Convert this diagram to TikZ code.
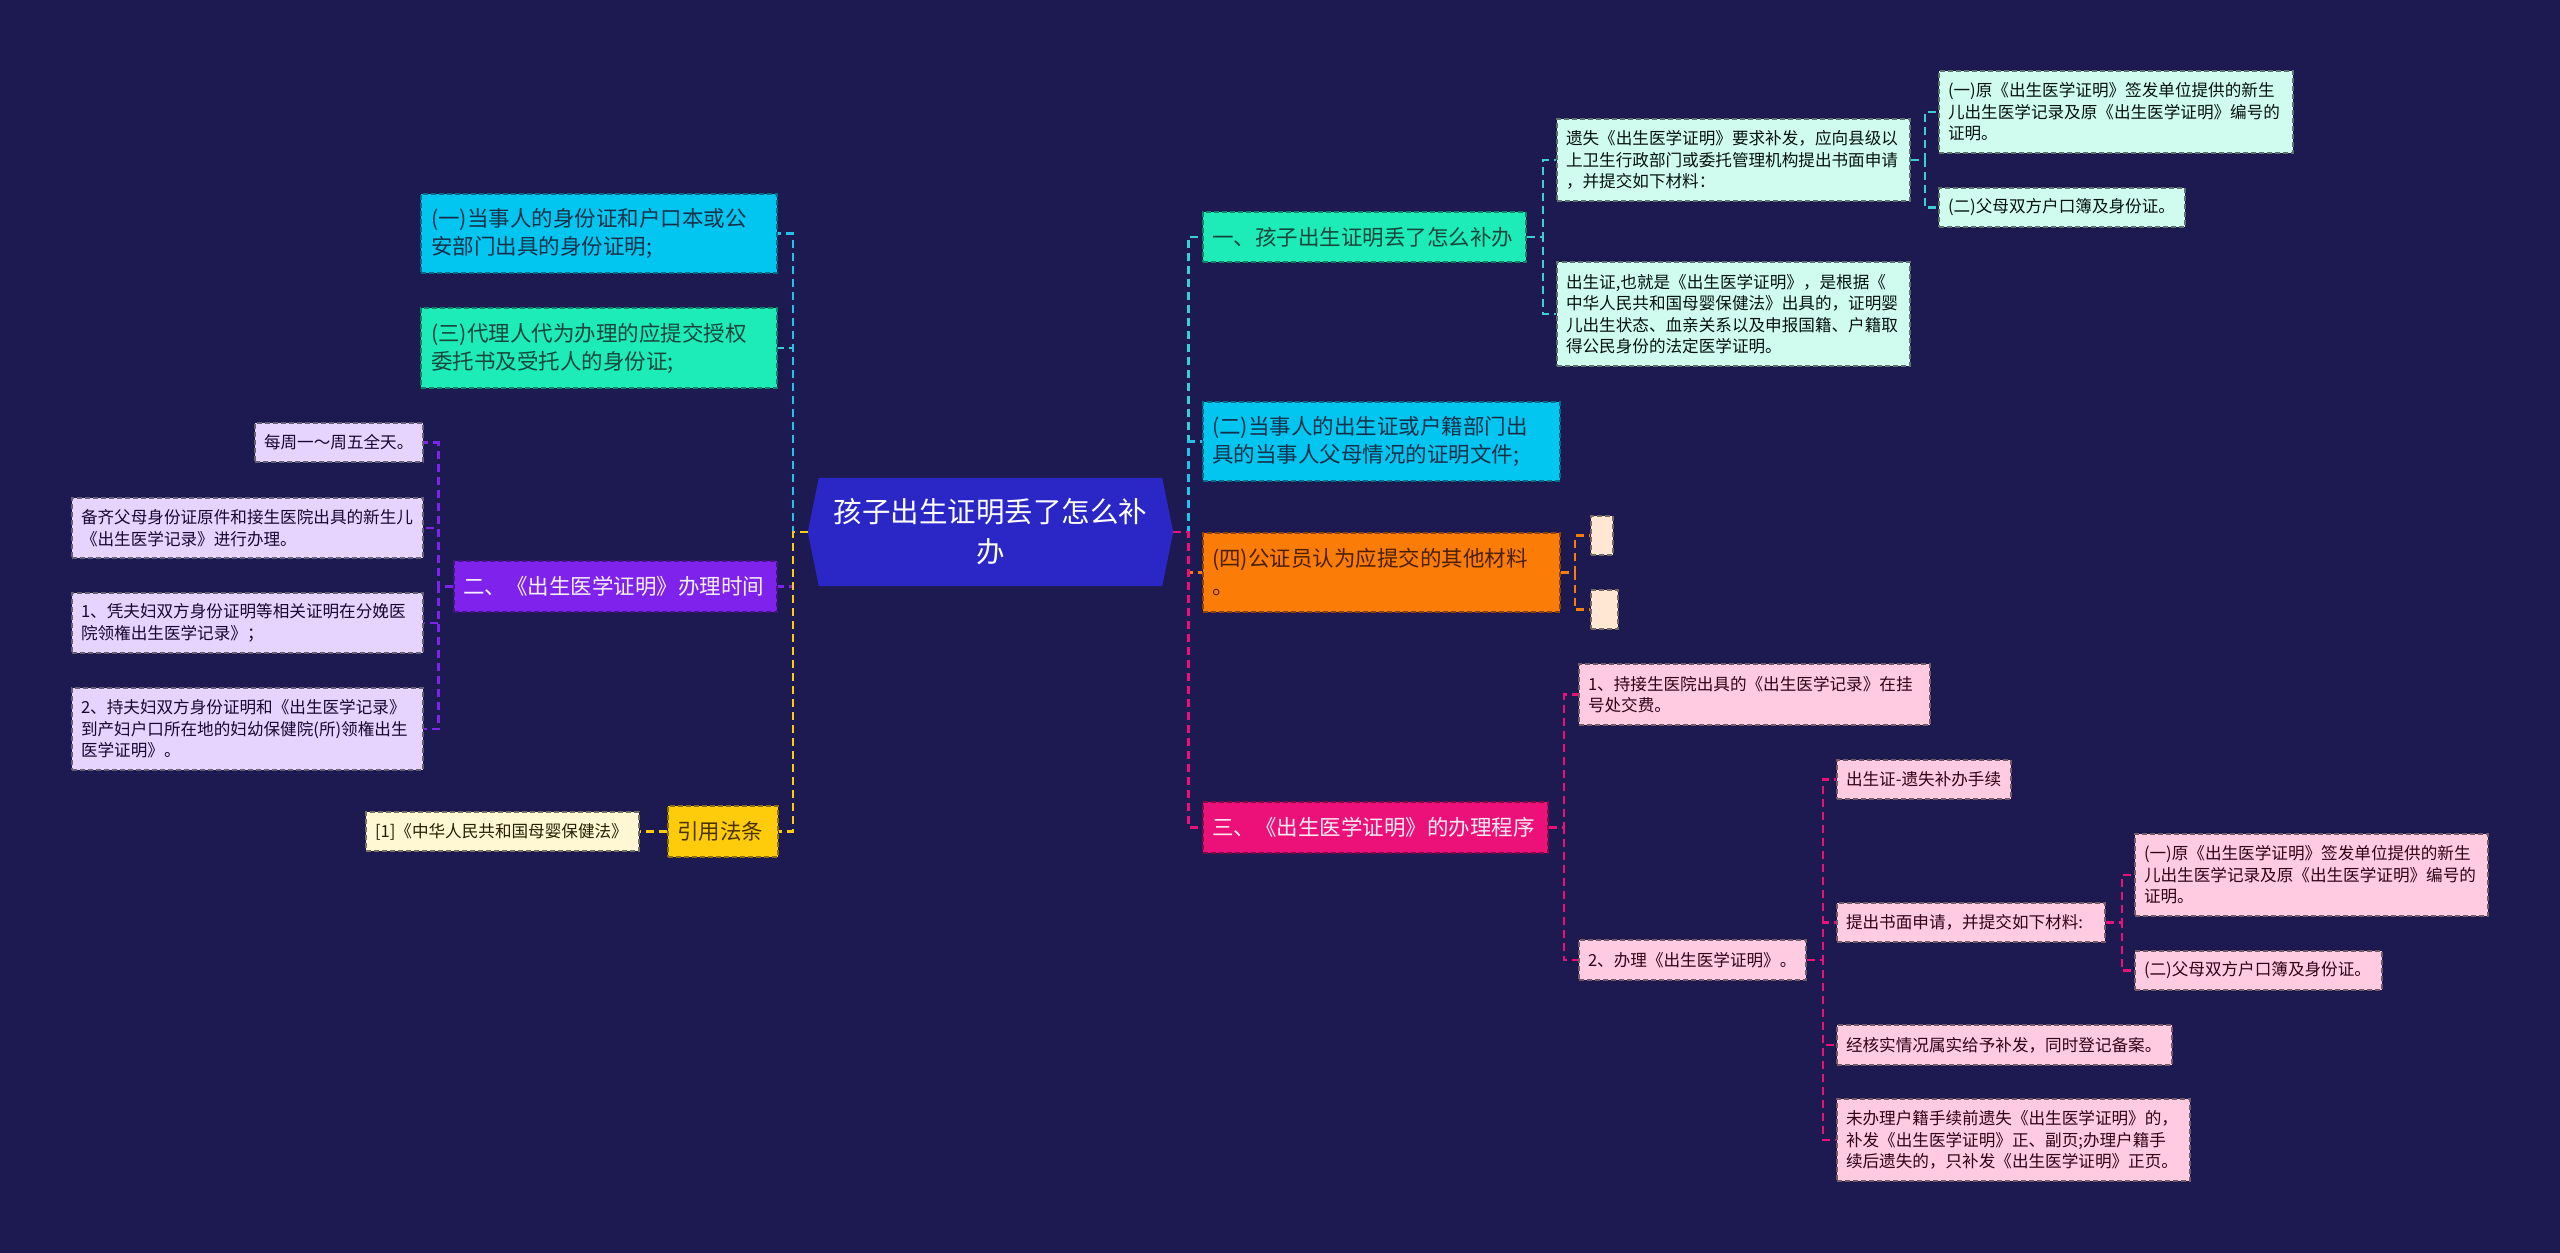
\documentclass[tikz,border=0pt]{standalone}
\usepackage{fontspec}
\setmainfont{Noto Sans CJK SC}
\definecolor{cBg}{HTML}{1C1A50}
\definecolor{cRoot}{HTML}{2A27C6}
\definecolor{cAqua}{HTML}{1DEBB8}
\definecolor{cAquaC}{HTML}{3CCFD2}
\definecolor{cAquaT}{HTML}{15463C}
\definecolor{cCyan}{HTML}{02C6F0}
\definecolor{cCyanC}{HTML}{22C2EA}
\definecolor{cCyanT}{HTML}{12304A}
\definecolor{cOrange}{HTML}{FC7C08}
\definecolor{cOrangeT}{HTML}{4A2000}
\definecolor{cMag}{HTML}{EC1079}
\definecolor{cPurp}{HTML}{7F22EC}
\definecolor{cYel}{HTML}{FECC0A}
\definecolor{cYelT}{HTML}{4A3300}
\definecolor{cMintL}{HTML}{D0FCEF}
\definecolor{cCreamO}{HTML}{FFE7D3}
\definecolor{cPinkL}{HTML}{FFCBE1}
\definecolor{cLav}{HTML}{E6D3FE}
\definecolor{cCreamY}{HTML}{FFF8D3}
\begin{document}
\begin{tikzpicture}[x=1pt,y=-1pt,
  base/.style={rectangle, dashed, dash pattern=on 5pt off 3pt, line width=1.6pt,
    inner xsep=9pt, inner ysep=0pt, align=left, anchor=center},
  smallf/.style={font=\fontsize{16.6}{21.5}\selectfont},
  midf/.style={font=\fontsize{21.5}{28}\selectfont},
  lvT/.style={base, midf, fill=cAqua, draw=cAqua!55!black, text=cAquaT},
  lvC/.style={base, midf, fill=cCyan, draw=cCyan!55!black, text=cCyanT},
  lvO/.style={base, midf, fill=cOrange, draw=cOrange!55!black, text=cOrangeT},
  lvM/.style={base, midf, fill=cMag, draw=cMag!55!black, text=white!92!cMag},
  lvP/.style={base, midf, fill=cPurp, draw=cPurp!55!black, text=white!94!cPurp},
  lvY/.style={base, midf, fill=cYel, draw=cYel!55!black, text=cYelT},
  chT/.style={base, smallf, fill=cMintL, draw=cMintL!45!black, text=black!75!cAquaT},
  chO/.style={base, smallf, fill=cCreamO, draw=cCreamO!45!black, inner xsep=0pt},
  chM/.style={base, smallf, fill=cPinkL, draw=cPinkL!45!black, text=black!80!cMag},
  chP/.style={base, smallf, fill=cLav, draw=cLav!45!black, text=black!80!cPurp},
  chY/.style={base, smallf, fill=cCreamY, draw=cCreamY!45!black, text=black!85!cYel},
  conn/.style={dash pattern=on 8pt off 5pt, line width=2.6pt}
]
\fill[cBg] (0,0) rectangle (2560,1253);

% root
\node[minimum width=365pt, minimum height=108pt, inner sep=0pt] (root) at (990.5,532) {};
\fill[cRoot] (root.west) -- ([xshift=11pt]root.north west) -- ([xshift=-11pt]root.north east)
  -- (root.east) -- ([xshift=-11pt]root.south east) -- ([xshift=11pt]root.south west) -- cycle;
\node[text=white, align=center, font=\fontsize{28.5}{40}\selectfont] (roott) at (root.center) {孩子出生证明丢了怎么补\\办};

% right side, level 1
\node[lvT, minimum width=323pt, text width=305pt, minimum height=50pt] (a1) at (1364.5,237) {一、孩子出生证明丢了怎么补办};
\node[lvC, minimum width=357pt, text width=339pt, minimum height=79pt] (a2) at (1381.5,441.5) {(二)当事人的出生证或户籍部门出\\具的当事人父母情况的证明文件;};
\node[lvO, minimum width=357pt, text width=339pt, minimum height=79pt] (a4) at (1381.5,572.5) {(四)公证员认为应提交的其他材料\\。};
\node[lvM, minimum width=345pt, text width=327pt, minimum height=51pt] (a3) at (1375.5,827.5) {三、《出生医学证明》的办理程序};

% right, branch one
\node[chT, minimum width=353pt, text width=335pt, minimum height=82pt] (r11) at (1733.5,160) {遗失《出生医学证明》要求补发，应向县级以\\上卫生行政部门或委托管理机构提出书面申请\\，并提交如下材料：};
\node[chT, minimum width=353pt, text width=335pt, minimum height=104pt] (r12) at (1733.5,314) {出生证,也就是《出生医学证明》，是根据《\\中华人民共和国母婴保健法》出具的，证明婴\\儿出生状态、血亲关系以及申报国籍、户籍取\\得公民身份的法定医学证明。};
\node[chT, minimum width=354pt, text width=336pt, minimum height=82pt] (r111) at (2116,112) {(一)原《出生医学证明》签发单位提供的新生\\儿出生医学记录及原《出生医学证明》编号的\\证明。};
\node[chT, minimum width=246pt, text width=228pt, minimum height=39pt] (r112) at (2062,207.5) {(二)父母双方户口簿及身份证。};

% right, orange children
\node[chO, minimum width=22pt, minimum height=39pt] (o1) at (1602,535.5) {};
\node[chO, minimum width=27pt, minimum height=39pt] (o2) at (1604.5,609.5) {};

% right, branch three
\node[chM, minimum width=351pt, text width=333pt, minimum height=61pt] (p1) at (1754.5,694.5) {1、持接生医院出具的《出生医学记录》在挂\\号处交费。};
\node[chM, minimum width=227pt, text width=209pt, minimum height=40pt] (p2) at (1692.5,960) {2、办理《出生医学证明》。};
\node[chM, minimum width=174pt, text width=156pt, minimum height=39pt] (p21) at (1924,779.5) {出生证-遗失补办手续};
\node[chM, minimum width=268pt, text width=250pt, minimum height=39pt] (p22) at (1971,922.5) {提出书面申请，并提交如下材料:};
\node[chM, minimum width=353pt, text width=335pt, minimum height=82pt] (p221) at (2311.5,875) {(一)原《出生医学证明》签发单位提供的新生\\儿出生医学记录及原《出生医学证明》编号的\\证明。};
\node[chM, minimum width=247pt, text width=229pt, minimum height=39pt] (p222) at (2258.5,970.5) {(二)父母双方户口簿及身份证。};
\node[chM, minimum width=335pt, text width=317pt, minimum height=40pt] (p23) at (2004.5,1045) {经核实情况属实给予补发，同时登记备案。};
\node[chM, minimum width=353pt, text width=335pt, minimum height=82pt] (p24) at (2013.5,1140) {未办理户籍手续前遗失《出生医学证明》的，\\补发《出生医学证明》正、副页;办理户籍手\\续后遗失的，只补发《出生医学证明》正页。};

% left side, level 1
\node[lvC, minimum width=356pt, text width=336pt, minimum height=79pt, inner xsep=10pt] (l1) at (599,233.5) {(一)当事人的身份证和户口本或公\\安部门出具的身份证明;};
\node[lvT, minimum width=356pt, text width=336pt, minimum height=80pt, inner xsep=10pt] (l3) at (599,348) {(三)代理人代为办理的应提交授权\\委托书及受托人的身份证;};
\node[lvP, minimum width=323pt, text width=305pt, minimum height=51pt] (l2) at (615.5,586.5) {二、《出生医学证明》办理时间};
\node[lvY, minimum width=110pt, text width=92pt, minimum height=51pt] (ly) at (723,831.5) {引用法条};

% left, purple children
\node[chP, minimum width=168pt, text width=150pt, minimum height=39pt] (q1) at (339,442.5) {每周一～周五全天。};
\node[chP, minimum width=351pt, text width=333pt, minimum height=60pt] (q2) at (247.5,528) {备齐父母身份证原件和接生医院出具的新生儿\\《出生医学记录》进行办理。};
\node[chP, minimum width=351pt, text width=333pt, minimum height=60pt] (q3) at (247.5,623) {1、凭夫妇双方身份证明等相关证明在分娩医\\院领権出生医学记录》；};
\node[chP, minimum width=351pt, text width=333pt, minimum height=82pt] (q4) at (247.5,729) {2、持夫妇双方身份证明和《出生医学记录》\\到产妇户口所在地的妇幼保健院(所)领権出生\\医学证明》。};

% left, yellow child
\node[chY, minimum width=273pt, text width=255pt, minimum height=39pt] (ly1) at (502.5,831.5) {[1]《中华人民共和国母婴保健法》};

% connectors from root
\draw[conn, cAquaC] (root.east) -- ++(15,0) |- (a1.west);
\draw[conn, cCyanC] (root.east) -- ++(15,0) |- (a2.west);
\draw[conn, cOrange] (root.east) -- ++(15,0) |- (a4.west);
\draw[conn, cMag] (root.east) -- ++(15,0) |- (a3.west);
\draw[conn, cAquaC] (root.west) -- ++(-15,0) |- (l3.east);
\draw[conn, cCyanC] (root.west) -- ++(-15,0) |- (l1.east);
\draw[conn, cPurp] (root.west) -- ++(-15,0) |- (l2.east);
\draw[conn, cYel] (root.west) -- ++(-15,0) |- (ly.east);

% branch one
\draw[conn, cAquaC] (a1.east) -- ++(16,0) |- (r11.west);
\draw[conn, cAquaC] (a1.east) -- ++(16,0) |- (r12.west);
\draw[conn, cAquaC] (r11.east) -- ++(14,0) |- (r111.west);
\draw[conn, cAquaC] (r11.east) -- ++(14,0) |- (r112.west);

% orange
\draw[conn, cOrange] (a4.east) -- ++(14,0) |- (o1.west);
\draw[conn, cOrange] (a4.east) -- ++(14,0) |- (o2.west);

% magenta
\draw[conn, cMag] (a3.east) -- ++(15,0) |- (p1.west);
\draw[conn, cMag] (a3.east) -- ++(15,0) |- (p2.west);
\draw[conn, cMag] (p2.east) -- ++(16,0) |- (p21.west);
\draw[conn, cMag] (p2.east) -- ++(16,0) |- (p22.west);
\draw[conn, cMag] (p2.east) -- ++(16,0) |- (p23.west);
\draw[conn, cMag] (p2.east) -- ++(16,0) |- (p24.west);
\draw[conn, cMag] (p22.east) -- ++(16,0) |- (p221.west);
\draw[conn, cMag] (p22.east) -- ++(16,0) |- (p222.west);

% purple
\draw[conn, cPurp] (l2.west) -- ++(-15,0) |- (q1.east);
\draw[conn, cPurp] (l2.west) -- ++(-15,0) |- (q2.east);
\draw[conn, cPurp] (l2.west) -- ++(-15,0) |- (q3.east);
\draw[conn, cPurp] (l2.west) -- ++(-15,0) |- (q4.east);

% yellow
\draw[conn, cYel] (ly.west) -- (ly1.east);
\end{tikzpicture}
\end{document}
